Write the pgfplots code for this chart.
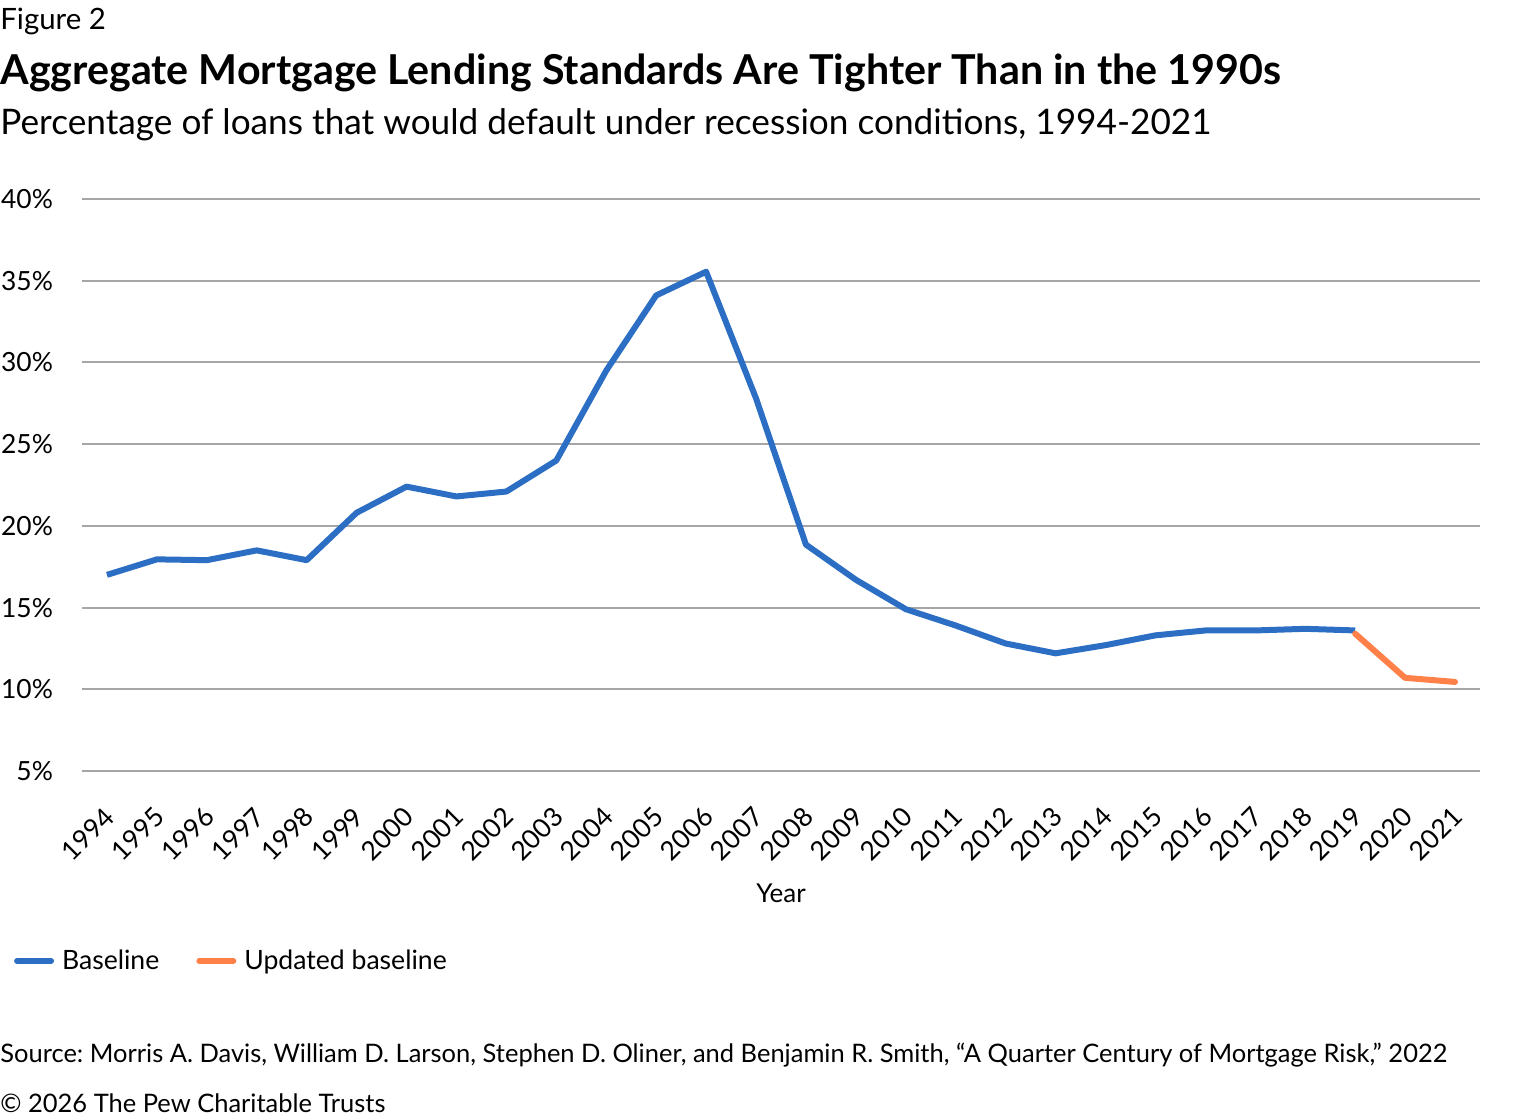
\documentclass[border=0pt]{standalone}
\usepackage{pgfplots}
\pgfplotsset{compat=1.18}
\usepackage{fontspec}
\setmainfont{Lato}
\frenchspacing
\definecolor{pewblue}{RGB}{44,110,195}
\definecolor{peworange}{RGB}{255,128,72}
\definecolor{gridgray}{RGB}{166,166,166}
\begin{document}
\begin{tikzpicture}
\useasboundingbox (0,0) rectangle (760bp,560bp);
\node[anchor=base west, inner sep=0, font=\fontsize{14.7bp}{18bp}\selectfont] at (0,545bp) {Figure 2};
\node[anchor=base west, inner sep=0, font=\fontsize{20.6bp}{25bp}\selectfont\bfseries] at (0,517.5bp) {Aggregate Mortgage Lending Standards Are Tighter Than in the 1990s};
\node[anchor=base west, inner sep=0, font=\fontsize{17.6bp}{21bp}\selectfont] at (0,492.5bp) {Percentage of loans that would default under recession conditions, 1994-2021};
\node[anchor=base west, inner sep=0, font=\fontsize{12.74bp}{15bp}\selectfont] at (0,29bp) {Source: Morris A. Davis, William D. Larson, Stephen D. Oliner, and Benjamin R. Smith, “A Quarter Century of Mortgage Risk,” 2022};
\node[anchor=base west, inner sep=0, font=\fontsize{12.74bp}{15bp}\selectfont] at (0,4bp) {© 2026 The Pew Charitable Trusts};
\begin{axis}[
  at={(41bp,174.5bp)}, anchor=south west,
  scale only axis, width=699bp, height=286bp,
  xmin=1993.5, xmax=2021.5, ymin=5, ymax=40,
  xtick={1994,...,2021}, ytick={5,10,...,40},
  axis line style={draw=none},
  major tick length=0pt,
  ymajorgrids, major grid style={color=gridgray, line width=1bp},
  /pgf/number format/assume math mode=true,
  /pgf/number format/1000 sep={},
  tick label style={font=\fontsize{13.2bp}{16bp}\selectfont},
  xticklabel style={rotate=45, anchor=east, yshift=-15.5bp, xshift=-10.3bp},
  yticklabel style={anchor=east, xshift=-11bp},
  yticklabel={\pgfmathprintnumber{\tick}\%},
  xlabel={Year},
  xlabel style={at={(axis description cs:0.5,-0.2145)}, anchor=center, font=\fontsize{13bp}{15bp}\selectfont},
  legend style={at={(axis description cs:-0.0486,-0.332)}, anchor=west, draw=none, fill=none,
     legend columns=-1, font=\fontsize{13.3bp}{16bp}\selectfont,
     /tikz/every odd column/.append style={column sep=2bp},
     /tikz/every even column/.append style={column sep=16.5bp}, inner sep=0pt, outer sep=0pt},
  legend image code/.code={\draw[#1, line width=3bp, line cap=round] (1.5bp,0bp) -- (18.5bp,0bp);},
  line join=round,
]
\addplot[color=pewblue, line width=3bp, line join=round] coordinates {
(1994,17.0) (1995,17.95) (1996,17.9) (1997,18.5) (1998,17.9) (1999,20.8)
(2000,22.4) (2001,21.8) (2002,22.1) (2003,24.0) (2004,29.5) (2005,34.1)
(2006,35.55) (2007,27.8) (2008,18.85) (2009,16.7) (2010,14.9) (2011,13.9)
(2012,12.8) (2013,12.2) (2014,12.7) (2015,13.3) (2016,13.6) (2017,13.6)
(2018,13.7) (2019,13.6)
};
\addlegendentry{Baseline}
\addplot[color=peworange, line width=3bp, line join=round, line cap=round] coordinates {
(2019,13.4) (2020,10.7) (2021,10.45)
};
\addlegendentry{Updated baseline}
\end{axis}
\end{tikzpicture}
\end{document}
